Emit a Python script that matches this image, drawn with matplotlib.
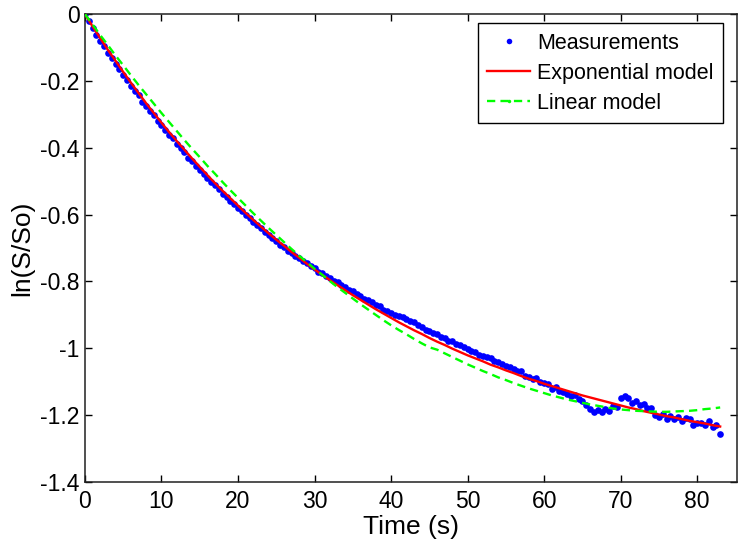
import numpy as np
import matplotlib
matplotlib.use("Agg")
import matplotlib.pyplot as plt
from matplotlib.lines import Line2D

plt.rcParams['font.family'] = ['Liberation Sans', 'DejaVu Sans']
plt.rcParams['axes.unicode_minus'] = False

# measurements, one value every 0.5 s from 0 to 83 s
t_meas = np.arange(0, 83.01, 0.5)
y_meas = [
    0.000, -0.022, -0.041, -0.061, -0.079, -0.094, -0.116, -0.130, -0.149, -0.163,
    -0.182, -0.196, -0.215, -0.229, -0.242, -0.262, -0.274, -0.291, -0.302, -0.320,
    -0.333, -0.346, -0.362, -0.372, -0.390, -0.400, -0.414, -0.429, -0.438, -0.454,
    -0.465, -0.478, -0.489, -0.503, -0.512, -0.524, -0.537, -0.546, -0.560, -0.569,
    -0.581, -0.589, -0.602, -0.610, -0.622, -0.631, -0.641, -0.652, -0.660, -0.671,
    -0.679, -0.690, -0.697, -0.708, -0.714, -0.724, -0.730, -0.739, -0.745, -0.755,
    -0.761, -0.771, -0.776, -0.785, -0.790, -0.799, -0.803, -0.810, -0.816, -0.826,
    -0.829, -0.838, -0.842, -0.851, -0.856, -0.861, -0.870, -0.874, -0.884, -0.887,
    -0.893, -0.901, -0.904, -0.906, -0.912, -0.919, -0.922, -0.930, -0.935, -0.944,
    -0.947, -0.953, -0.956, -0.965, -0.969, -0.977, -0.979, -0.988, -0.990, -0.997,
    -1.001, -1.008, -1.011, -1.020, -1.023, -1.026, -1.030, -1.038, -1.042, -1.047,
    -1.052, -1.057, -1.061, -1.068, -1.067, -1.083, -1.087, -1.092, -1.089, -1.101,
    -1.104, -1.108, -1.121, -1.115, -1.128, -1.131, -1.137, -1.144, -1.139, -1.152,
    -1.158, -1.171, -1.183, -1.190, -1.186, -1.192, -1.181, -1.188, -1.172, -1.175,
    -1.150, -1.143, -1.149, -1.163, -1.158, -1.170, -1.166, -1.180, -1.178, -1.201,
    -1.206, -1.198, -1.213, -1.204, -1.212, -1.205, -1.218, -1.209, -1.211, -1.228,
    -1.224, -1.222, -1.230, -1.219, -1.236, -1.229, -1.255,
]

# model curves, one value per second
t_model = np.arange(0, 84)
y_exp = [
    0.000, -0.037, -0.072, -0.107, -0.140, -0.173, -0.205, -0.236, -0.267, -0.296,
    -0.325, -0.353, -0.380, -0.406, -0.432, -0.457, -0.482, -0.506, -0.529, -0.551,
    -0.573, -0.595, -0.616, -0.636, -0.656, -0.675, -0.693, -0.712, -0.729, -0.747,
    -0.764, -0.780, -0.796, -0.811, -0.826, -0.841, -0.855, -0.869, -0.883, -0.896,
    -0.909, -0.922, -0.934, -0.946, -0.957, -0.969, -0.980, -0.990, -1.001, -1.011,
    -1.021, -1.030, -1.039, -1.049, -1.057, -1.066, -1.074, -1.083, -1.091, -1.098,
    -1.106, -1.113, -1.120, -1.127, -1.134, -1.141, -1.147, -1.153, -1.159, -1.165,
    -1.171, -1.177, -1.182, -1.188, -1.193, -1.198, -1.203, -1.207, -1.212, -1.217,
    -1.221, -1.225, -1.230, -1.234,
]
y_lin = [
    0.000, -0.031, -0.063, -0.093, -0.124, -0.153, -0.183, -0.212, -0.240, -0.268,
    -0.296, -0.323, -0.350, -0.377, -0.403, -0.428, -0.454, -0.478, -0.503, -0.527,
    -0.550, -0.573, -0.596, -0.618, -0.640, -0.661, -0.682, -0.703, -0.723, -0.742,
    -0.762, -0.780, -0.799, -0.817, -0.834, -0.851, -0.868, -0.884, -0.900, -0.916,
    -0.931, -0.945, -0.958, -0.972, -0.985, -0.997, -1.004, -1.015, -1.026, -1.037,
    -1.048, -1.058, -1.068, -1.077, -1.087, -1.095, -1.104, -1.112, -1.120, -1.127,
    -1.134, -1.141, -1.147, -1.153, -1.158, -1.163, -1.168, -1.172, -1.176, -1.180,
    -1.183, -1.185, -1.187, -1.188, -1.189, -1.190, -1.190, -1.189, -1.188, -1.187,
    -1.185, -1.182, -1.180, -1.177,
]

xticks = [0, 10, 20, 30, 40, 50, 60, 70, 80]
yticks = [0, -0.2, -0.4, -0.6, -0.8, -1.0, -1.2, -1.4]
ytick_labels = ["0", "-0.2", "-0.4", "-0.6", "-0.8", "-1", "-1.2", "-1.4"]

fig = plt.figure(figsize=(7.44, 5.44), dpi=100)
ax = fig.add_axes([0.1142, 0.114, 0.8764, 0.860])

ax.plot(t_meas, y_meas, 'o', color='#0000ff', ms=4.8, mew=0, zorder=2)
ax.plot(t_model, y_exp, '-', color='#ff0000', lw=1.7, zorder=3)
ax.plot(t_model, y_lin, '--', color='#00ff00', lw=1.7, dashes=(3.5, 2.2), zorder=4)

ax.set_xlim(0, 85.2)
ax.set_ylim(-1.4, 0)
ax.set_xticks(xticks)
ax.set_yticks(yticks)
ax.set_yticklabels(ytick_labels)
ax.tick_params(direction='in', length=5, width=1, top=True, right=True,
               labelsize=16.5, colors='#000000')
ax.tick_params(axis='x', pad=6)
ax.tick_params(axis='y', pad=4)
for s in ax.spines.values():
    s.set_linewidth(1.1)
    s.set_color('#202020')

ax.set_xlabel("Time (s)", fontsize=19, labelpad=1)
ax.set_ylabel("ln(S/So)", fontsize=19, labelpad=4)

handles = [
    Line2D([], [], ls='none', marker='o', ms=4, mew=0, color='#0000ff'),
    Line2D([], [], ls='-', lw=1.7, color='#ff0000'),
    Line2D([], [], ls='--', lw=1.7, dashes=(3.5, 2.2), color='#00ff00',
           marker='o', ms=2.5, mew=0),
]
labels = ["Measurements", "Exponential model", "Linear model"]
leg = ax.legend(handles, labels, loc='upper right', bbox_to_anchor=(0.9785, 0.981),
                fontsize=15.5, frameon=True, fancybox=False, framealpha=1,
                edgecolor='#000000', handlelength=2.0, handletextpad=0.3,
                labelspacing=0.42, borderpad=0.45, borderaxespad=0)
leg.get_frame().set_linewidth(1.0)

fig.savefig("out.png", dpi=100)
